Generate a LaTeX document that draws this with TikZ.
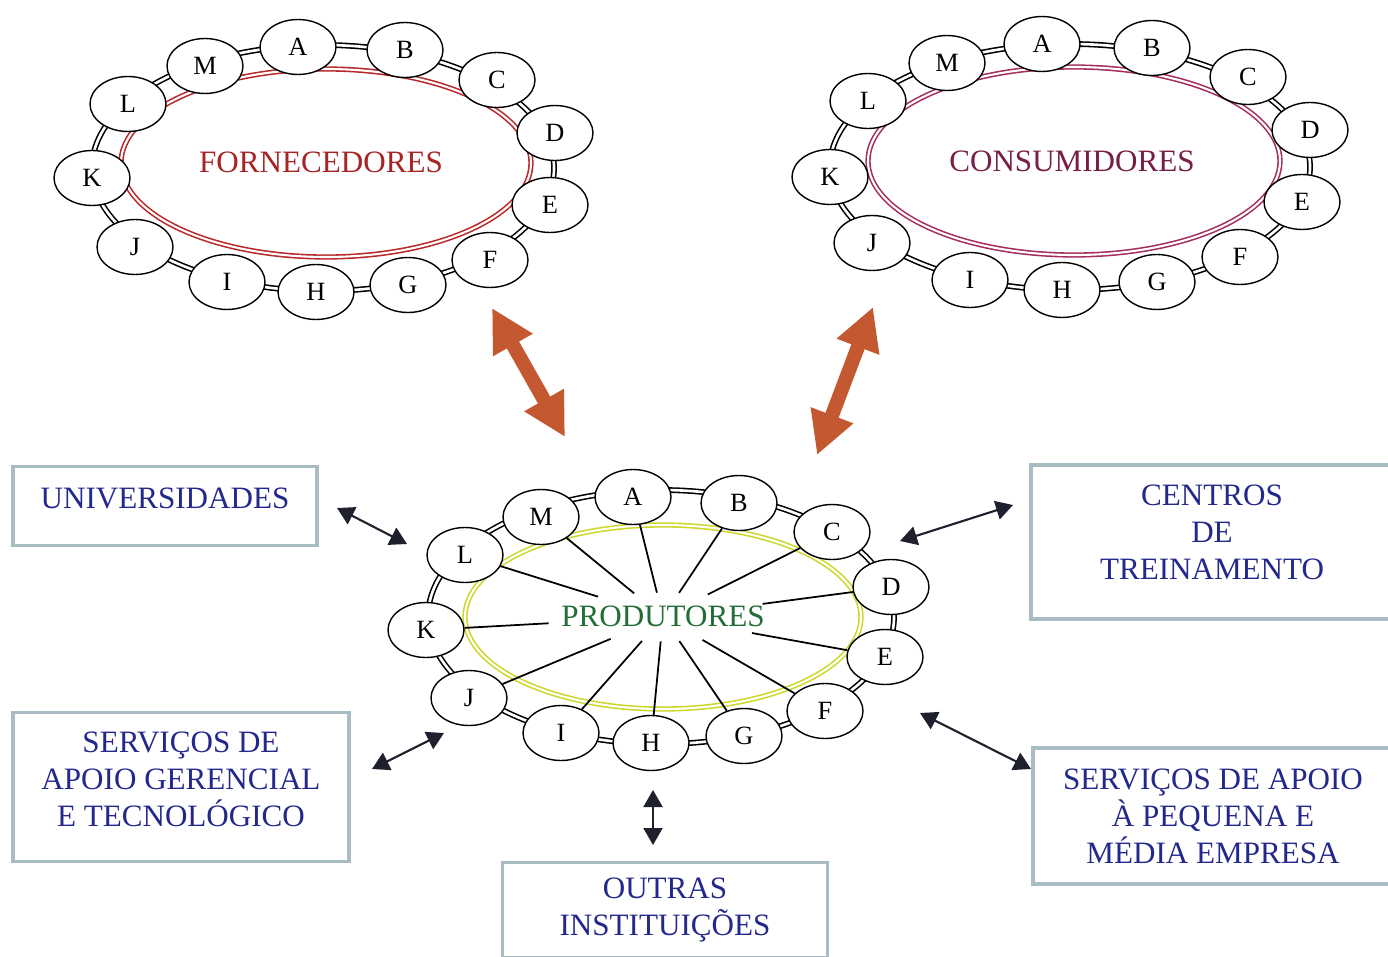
\documentclass[tikz,border=0pt]{standalone}
\usepackage{fontspec}
\setmainfont{Liberation Serif}
\usetikzlibrary{arrows.meta,positioning,shapes.geometric}
\definecolor{fornred}{RGB}{185,40,40}
\definecolor{consplum}{RGB}{165,45,95}
\definecolor{consdark}{RGB}{120,30,70}
\definecolor{prodyellow}{RGB}{205,215,40}
\definecolor{prodgreen}{RGB}{35,110,55}
\definecolor{instblue}{RGB}{35,40,140}
\definecolor{boxgrey}{RGB}{170,188,195}
\definecolor{bigorange}{RGB}{196,88,48}
\definecolor{tipdark}{RGB}{30,32,45}
\tikzset{
  memb/.style={ellipse,draw,fill=white,line width=0.8pt,minimum width=1.52cm,minimum height=1.1cm,inner sep=0pt,font=\fontsize{15}{15}\selectfont},
  ring/.style={draw=black,double=white,double distance=1.5pt,line width=0.9pt},
  core/.style={double=white,double distance=1.2pt,line width=0.9pt},
  title/.style={font=\fontsize{17.7}{21}\selectfont},
  inst/.style={draw=boxgrey,line width=1.8pt,fill=white,text=instblue,align=center,inner sep=0pt,font=\fontsize{17.7}{21}\selectfont},
  bigarr/.style={draw=bigorange,line width=8pt,{Triangle[length=0.85cm,width=0.85cm]}-{Triangle[length=0.85cm,width=0.85cm]}},
  linkarr/.style={draw=tipdark,line width=1.2pt,{Triangle[length=0.34cm,width=0.38cm]}-{Triangle[length=0.34cm,width=0.38cm]}},
  spoke/.style={line width=1pt}
}
\newcommand{\memberset}[2]{\foreach \m/\px/\py in {#2} \node[memb] (#1-\m) at (\px,\py) {\m};}

\begin{document}
\begin{tikzpicture}[x=0.02cm,y=-0.02cm]
  \useasboundingbox[fill=white] (0,0) rectangle (1388,956);
  \draw[ring] (323,168) ellipse [x radius=231, y radius=123];
  \draw[core,draw=fornred] (326,163) ellipse [x radius=205, y radius=94];
  \node[title,text=fornred!90!black] (forn) at (321,162) {FORNECEDORES};
  \memberset{f}{A/298/47,B/405/50,C/497/80,D/555/133,E/550/205,F/490/260,G/408/285,H/316/292,I/227/282,J/135/247,K/92/178,L/128/104,M/205/66}
  \draw[ring] (1070,167) ellipse [x radius=240, y radius=123];
  \draw[core,draw=consplum] (1074,161) ellipse [x radius=206, y radius=94];
  \node[title,text=consdark] (cons) at (1072,161) {CONSUMIDORES};
  \memberset{c}{A/1042/44,B/1152/48,C/1248/77,D/1310/130,E/1302/202,F/1240/257,G/1157/282,H/1062/290,I/970/280,J/872/243,K/830/177,L/868/101,M/947/63}
  \draw[ring] (661,617) ellipse [x radius=233, y radius=127];
  \draw[core,draw=prodyellow] (663,617) ellipse [x radius=198, y radius=92];
  \node[title,text=prodgreen] (prod) at (663,616) {PRODUTORES};
  \node[ellipse,minimum width=4.72cm,minimum height=0.96cm,inner sep=0pt] (hub) at (663,617) {};
  \memberset{p}{A/633/497,B/739/503,C/832/532,D/891/587,E/885/657,F/825/711,G/744/736,H/651/743,I/561/733,J/469/698,K/426/630,L/465/555,M/541/517}
  \foreach \m in {A,B,C,D,E,F,G,H,I,J,K,L,M} \draw[spoke] (hub) -- (p-\m);
  \node[inst,minimum width=6.08cm,minimum height=1.58cm,text depth=0.32cm] (uni) at (165,506) {UNIVERSIDADES};
  \node[inst,minimum width=6.72cm,minimum height=2.98cm,text depth=0.32cm] (sag) at (181,787) {SERVIÇOS DE\\APOIO GERENCIAL\\E TECNOLÓGICO};
  \node[inst,minimum width=6.5cm,minimum height=1.9cm] (outras) at (665,910) {OUTRAS\\INSTITUIÇÕES};
  \node[inst,minimum width=7.24cm,minimum height=3.08cm,text depth=0.4cm] (ctr) at (1212,542) {CENTROS\\DE\\TREINAMENTO};
  \node[inst,minimum width=7.2cm,minimum height=2.72cm] (spme) at (1213,816) {SERVIÇOS DE APOIO\\À PEQUENA E\\MÉDIA EMPRESA};
  \coordinate (forn-tip) at (492,308); \coordinate (prod-tipf) at (565,437);
  \coordinate (cons-tip) at (873,307); \coordinate (prod-tipc) at (817,455);
  \draw[bigarr] (forn-tip) -- (prod-tipf);
  \draw[bigarr] (cons-tip) -- (prod-tipc);
  \coordinate (uni-tip) at (337,508); \coordinate (hub-uni) at (407,544);
  \coordinate (sag-tip) at (372,769); \coordinate (hub-sag) at (444,733);
  \coordinate (outras-tip) at (653,845); \coordinate (hub-outras) at (653,790);
  \coordinate (ctr-tip) at (1013,505); \coordinate (hub-ctr) at (900,541);
  \coordinate (spme-tip) at (1031,769); \coordinate (hub-spme) at (920,713);
  \draw[linkarr] (uni-tip) -- (hub-uni);
  \draw[linkarr] (sag-tip) -- (hub-sag);
  \draw[linkarr] (hub-outras) -- (outras-tip);
  \draw[linkarr] (hub-ctr) -- (ctr-tip);
  \draw[linkarr] (hub-spme) -- (spme-tip);
\end{tikzpicture}
\end{document}
